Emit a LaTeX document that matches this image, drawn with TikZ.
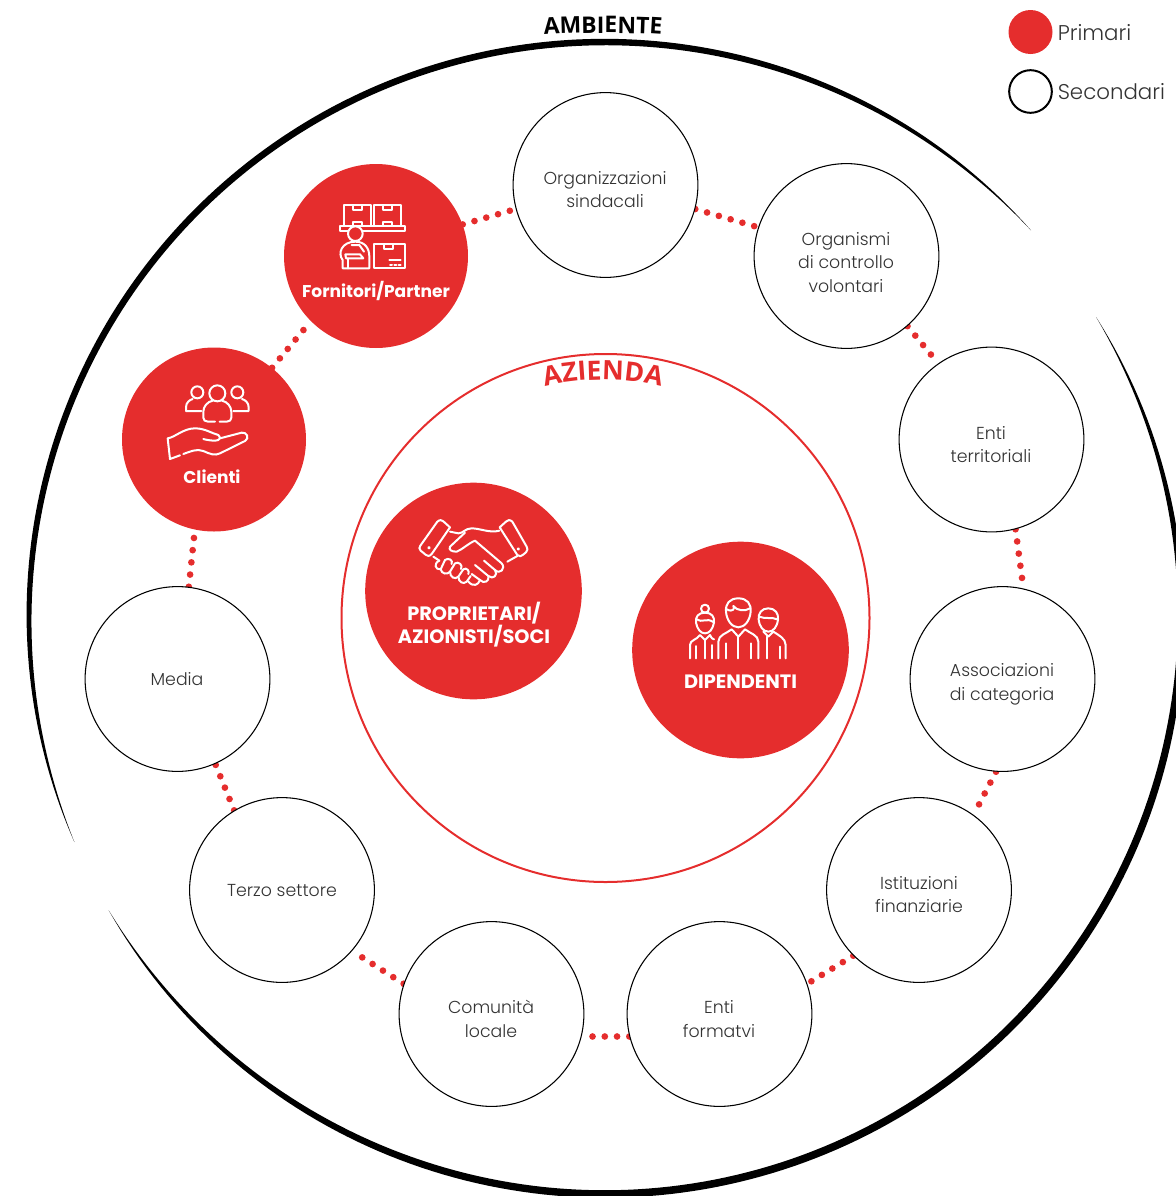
\documentclass[tikz,border=0pt]{standalone}
\usepackage{fontspec}
\setmainfont{Open Sans}
\newfontfamily\lightf[UprightFont=* Light]{Poppins}
\newfontfamily\boldf[UprightFont=* Bold]{Poppins}
\usetikzlibrary{decorations.text}
\definecolor{rosso}{HTML}{E52D2D}
\definecolor{testo}{HTML}{333333}
\pgfdeclarelayer{bg}
\pgfsetlayers{bg,main}
\tikzset{
  declare function={va(\t)=(\t-122.6)/80.3;vb(\t)=(\t-301)/90.5;wa(\t)=3.3*(1-va(\t)*va(\t)*va(\t)*va(\t));wb(\t)=3.8*(1-vb(\t)*vb(\t)*vb(\t)*vb(\t));},
  sec/.style={circle,draw=black,line width=.8pt,fill=white,minimum size=138.6pt,inner sep=0pt},
  sectxt/.style={inner sep=0pt,align=center,font=\lightf\fontsize{13pt}{17.7pt}\selectfont,text=testo},
  pri/.style={circle,fill=rosso,minimum size=138pt,inner sep=0pt},
  big/.style={circle,fill=rosso,minimum size=162.5pt,inner sep=0pt},
  lab/.style={text=white,align=center,inner sep=0pt,font=\boldf\fontsize{12.8pt}{17.8pt}\selectfont},
  labcaps/.style={text=white,align=center,inner sep=0pt,font=\boldf\fontsize{14.5pt}{17.8pt}\selectfont},
  leg/.style={anchor=west,inner sep=0pt,text=testo,font=\lightf\fontsize{16pt}{20pt}\selectfont},
  dots/.style={rosso,line width=5pt,line cap=round,dash pattern=on 0pt off 9.2pt},
  icon/.style={draw=white,line width=1.5pt,line cap=round,line join=round},
  zoomed/.style={x=.25pt,y=-.25pt},
}
\begin{document}
\begin{tikzpicture}[x=.75pt,y=-.75pt]
\useasboundingbox (0,0) rectangle (1176,1196);
\clip (0,0) rectangle (1176,1196);
% outer calligraphic ring
\fill[black] plot[domain=42.3:202.9,samples=160] ({605+(576+wa(\x))*cos(\x)},{618-(576+wa(\x))*sin(\x)})
  -- plot[domain=202.9:42.3,samples=160] ({605+(576-wa(\x))*cos(\x)},{618-(576-wa(\x))*sin(\x)}) -- cycle;
\fill[black] plot[domain=210.5:391.5,samples=160] ({605+(576+wb(\x))*cos(\x)},{618-(576+wb(\x))*sin(\x)})
  -- plot[domain=391.5:210.5,samples=160] ({605+(576-wb(\x))*cos(\x)},{618-(576-wb(\x))*sin(\x)}) -- cycle;
% azienda ring
\node[circle,draw=rosso,line width=1.5pt,minimum size=396pt,inner sep=0pt] (azienda) at (605.5,618) {};
% curved titles
\path[decorate,decoration={text along path,text align=center,text={|\fontsize{17.2pt}{20pt}\bfseries|AMBIENTE}}]
  (533,36) .. controls (556,32) and (650,32) .. (673,36);
\path[decorate,decoration={text along path,text align=center,text={|\fontsize{20pt}{22pt}\color{rosso}\bfseries|AZIENDA}}]
  (533,391) .. controls (565,376) and (640,376) .. (673,391);
% secondary stakeholders
\node[sec] (org) at (605.5,185) {};
\node[sec] (cont) at (846.5,256) {};
\node[sec] (terr) at (991.5,439.5) {};
\node[sec] (assoc) at (1002.5,679) {};
\node[sec] (ist) at (919,890) {};
\node[sec] (form) at (719.5,1014) {};
\node[sec] (com) at (491.5,1014) {};
\node[sec] (terzo) at (282,890) {};
\node[sec] (media) at (177.5,679) {};
\node[sectxt] (torg) at (605,189.5) {Organizzazioni\\sindacali};
\node[sectxt] (tcont) at (846,262.5) {Organismi\\di controllo\\volontari};
\node[sectxt] (tterr) at (991,444.5) {Enti\\territoriali};
\node[sectxt] (tassoc) at (1002,684.5) {Associazioni\\di categoria};
\node[sectxt] (tist) at (919,894.5) {Istituzioni\\finanziarie};
\node[sectxt] (tform) at (719,1019) {Enti\\formatvi};
\node[sectxt] (tcom) at (491,1019) {Comunità\\locale};
\node[sectxt] (tterzo) at (282,890) {Terzo settore};
\node[sectxt] (tmedia) at (177,679) {Media};
% primary stakeholders
\node[pri] (cli) at (214,439.5) {};
\node[pri] (forn) at (376,256) {};
\node[big] (prop) at (473.5,591) {};
\node[big] (dip) at (740.5,650) {};
\node[lab] (tforn) at (376,291) {Fornitori/Partner};
\node[lab] (tcli) at (212,477) {Clienti};
\node[labcaps] (tprop) at (474,624.5) {PROPRIETARI/\\AZIONISTI/SOCI};
\node[labcaps] (tdip) at (740.5,682) {DIPENDENTI};
% dotted connectors
\begin{pgfonlayer}{bg}
\draw[dots] (forn.20) -- (org.195);
\draw[dots] (org.-15) -- (cont.162);
\draw[dots] (cont.-49) -- (terr.125);
\draw[dots] (terr.-75) -- (assoc.77);
\draw[dots] (assoc.-94) -- (ist.54);
\draw[dots] (ist.-135) -- (form.19);
\draw[dots] (form.194) -- (com.-14);
\draw[dots] (com.161) -- (terzo.-41);
\draw[dots] (terzo.121) -- (media.-66);
\draw[dots] (media.83) -- (cli.-102);
\draw[dots] (cli.51) -- (forn.-135);
\end{pgfonlayer}
% legend
\node[circle,fill=rosso,minimum size=33pt,inner sep=0pt] (lp) at (1030.5,32) {};
\node[circle,draw=black,line width=1.5pt,fill=white,minimum size=32pt,inner sep=0pt] (ls) at (1030.5,91.5) {};
\node[leg] (tlp) at (1057.5,33) {Primari};
\node[leg] (tls) at (1057.5,92) {Secondari};
% icon: warehouse
\begin{scope}[shift={(280,160)},zoomed]
\draw[icon] (180,197) rectangle (375,212);
\draw[icon] (192,197) -- (192,135) -- (272,135) -- (272,197);
\draw[icon] (282,197) -- (282,135) -- (362,135) -- (362,197);
\draw[icon] (218,135) -- (218,150) -- (245,150) -- (245,135);
\draw[icon] (308,135) -- (308,150) -- (335,150) -- (335,135);
\draw[icon] (218,197) -- (218,185) -- (245,185) -- (245,197);
\draw[icon] (308,197) -- (308,185) -- (335,185) -- (335,197);
\draw[icon,fill=rosso] (226,221) circle (22);
\draw[icon] (195,325) -- (188,325) -- (188,300) .. controls (172,280) and (185,245) .. (226,245) .. controls (255,245) and (268,265) .. (268,290) -- (268,325) -- (195,325);
\draw[icon] (196,283) -- (240,283) -- (250,295) -- (198,295) -- (196,283);
\draw[icon] (215,255) -- (238,255) -- (252,275);
\draw[icon] (205,295) -- (205,325);
\draw[icon] (283,253) rectangle (375,325);
\draw[icon] (312,253) -- (312,268) -- (340,268) -- (340,253);
\draw[icon] (328,300) -- (362,300);
\draw[icon] (330,314) -- (336,314) (343,314) -- (349,314) (356,314) -- (362,314);
\end{scope}
% icon: customers
\begin{scope}[shift={(120,350)},zoomed]
\draw[icon] (232,127) circle (18);
\draw[icon] (352,127) circle (18);
\draw[icon] (292,130) circle (24);
\draw[icon] (244,183) -- (198,183) -- (198,172) .. controls (198,158) and (208,150) .. (218,147);
\draw[icon] (340,183) -- (386,183) -- (386,172) .. controls (386,158) and (376,150) .. (366,147);
\draw[icon] (285,215) -- (264,215) .. controls (255,215) and (250,210) .. (250,203) -- (250,185) .. controls (250,170) and (262,155) .. (278,152);
\draw[icon] (299,215) -- (320,215) .. controls (329,215) and (334,210) .. (334,203) -- (334,185) .. controls (334,170) and (322,155) .. (306,152);
\draw[icon] (180,316) -- (150,327) -- (143,265) .. controls (165,262) and (190,235) .. (225,235) .. controls (255,235) and (275,250) .. (295,255) .. controls (303,262) and (300,272) .. (285,272) .. controls (275,272) and (260,270) .. (250,267);
\draw[icon] (300,265) -- (365,248) .. controls (380,245) and (390,265) .. (375,273) -- (300,310) .. controls (285,318) and (270,312) .. (250,303) .. controls (230,295) and (210,305) .. (190,312);
\end{scope}
% icon: handshake
\begin{scope}[shift={(400,500)},zoomed]
\draw[icon] (112,65) .. controls (120,58) and (125,60) .. (130,64) -- (150,82) -- (95,162) .. controls (88,170) and (82,168) .. (78,165) -- (62,152) .. controls (57,147) and (57,142) .. (61,137) -- (112,65);
\draw[icon] (337,65) .. controls (329,58) and (324,60) .. (319,64) -- (299,82) -- (352,165) .. controls (358,172) and (364,168) .. (368,165) -- (378,157) .. controls (384,150) and (383,146) .. (380,140) -- (337,65);
\draw[icon] (87,143) circle (2);
\draw[icon] (355,147) circle (2);
\draw[icon] (150,95) -- (175,100) .. controls (190,100) and (195,85) .. (215,85) .. controls (240,85) and (270,100) .. (298,92);
\draw[icon] (195,98) -- (150,140) .. controls (145,150) and (155,155) .. (170,155) .. controls (185,150) and (205,130) .. (225,122) -- (305,190) .. controls (318,205) and (300,225) .. (285,210) -- (252,182);
\draw[icon] (285,210) .. controls (295,225) and (280,240) .. (265,228) -- (225,195);
\draw[icon] (265,228) .. controls (270,245) and (250,252) .. (240,240) -- (215,222);
\draw[icon] (240,240) .. controls (235,255) and (220,262) .. (205,245);
\draw[icon] (322,185) -- (352,168);
\draw[icon] (100,170) -- (118,182);
\draw[icon] (118,182) .. controls (100,190) and (105,210) .. (122,208) -- (135,180) .. controls (145,172) and (160,180) .. (155,192);
\draw[icon] (122,208) .. controls (125,222) and (142,225) .. (150,215) -- (165,190) .. controls (175,183) and (190,195) .. (183,207);
\draw[icon] (150,215) .. controls (150,232) and (165,240) .. (175,230) -- (190,208) .. controls (200,200) and (210,215) .. (205,222);
\draw[icon] (175,230) .. controls (175,245) and (190,255) .. (200,245) -- (212,228);
\end{scope}
% icon: employees
\begin{scope}[shift={(670,580)},zoomed]
% centre man
\draw[icon] (205,55) .. controls (178,55) and (166,72) .. (168,95) .. controls (170,120) and (185,142) .. (205,142) .. controls (225,142) and (240,120) .. (242,95) .. controls (244,72) and (232,55) .. (205,55);
\draw[icon] (170,88) .. controls (190,98) and (195,85) .. (190,78) .. controls (200,92) and (225,95) .. (240,85);
\draw[icon] (145,235) -- (145,185) .. controls (145,165) and (170,160) .. (185,148) -- (205,170) -- (225,148) .. controls (240,160) and (265,165) .. (265,185) -- (265,235);
\draw[icon] (167,235) -- (167,190);
\draw[icon] (243,235) -- (243,190);
\draw[icon] (205,170) -- (205,235);
% woman
\draw[icon] (105,98) .. controls (85,98) and (76,110) .. (78,128) .. controls (82,148) and (92,160) .. (105,160) .. controls (118,160) and (128,148) .. (132,128) .. controls (134,110) and (125,98) .. (105,98);
\draw[icon] (105,86) circle (12);
\draw[icon] (80,118) .. controls (95,130) and (110,112) .. (130,126);
\draw[icon] (60,235) -- (60,195) .. controls (60,180) and (80,180) .. (90,165) -- (105,180) -- (120,165) .. controls (125,175) and (128,178) .. (132,178);
\draw[icon] (79,235) -- (79,198);
\draw[icon] (105,180) -- (105,235) ;
\draw[icon] (127,235) -- (127,195);
% right man
\draw[icon] (295,85) .. controls (275,85) and (264,100) .. (266,118) .. controls (268,140) and (280,155) .. (295,155) .. controls (310,155) and (322,140) .. (324,118) .. controls (326,100) and (315,85) .. (295,85);
\draw[icon] (268,110) .. controls (285,118) and (305,110) .. (322,118);
\draw[icon] (280,155) -- (295,170) -- (310,155) .. controls (325,165) and (347,175) .. (347,195) -- (347,235);
\draw[icon] (330,235) -- (330,200);
\draw[icon] (290,235) -- (290,170);
\end{scope}
\end{tikzpicture}
\end{document}
